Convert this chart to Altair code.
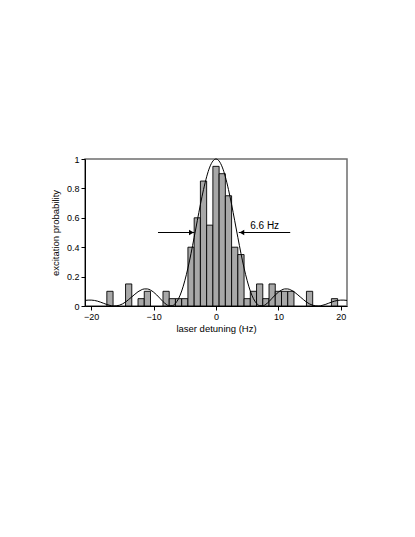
import altair as alt
import pandas as pd

# Histogram: bin centres (Hz) and measured excitation probability
bin_centers = [-17, -14, -12, -11, -8, -7, -6, -5, -4, -3, -2, -1, 0, 1, 2, 3, 4,
               5, 6, 7, 8, 9, 10, 11, 12, 15, 19]
probs = [0.10, 0.15, 0.05, 0.10, 0.10, 0.05, 0.05, 0.05, 0.40, 0.60, 0.85, 0.55,
         0.95, 0.90, 0.75, 0.40, 0.35, 0.05, 0.10, 0.15, 0.05, 0.15, 0.10, 0.10,
         0.10, 0.10, 0.05]

# Fitted line shape, every 0.5 Hz
curve_x = [-21.0, -20.5, -20.0, -19.5, -19.0, -18.5, -18.0, -17.5, -17.0, -16.5,
           -16.0, -15.5, -15.0, -14.5, -14.0, -13.5, -13.0, -12.5, -12.0, -11.5,
           -11.0, -10.5, -10.0, -9.5, -9.0, -8.5, -8.0, -7.5, -7.0, -6.5,
           -6.0, -5.5, -5.0, -4.5, -4.0, -3.5, -3.0, -2.5, -2.0, -1.5,
           -1.0, -0.5, 0.0, 0.5, 1.0, 1.5, 2.0, 2.5, 3.0, 3.5,
           4.0, 4.5, 5.0, 5.5, 6.0, 6.5, 7.0, 7.5, 8.0, 8.5,
           9.0, 9.5, 10.0, 10.5, 11.0, 11.5, 12.0, 12.5, 13.0, 13.5,
           14.0, 14.5, 15.0, 15.5, 16.0, 16.5, 17.0, 17.5, 18.0, 18.5,
           19.0, 19.5, 20.0, 20.5, 21.0]
curve_y = [0.038, 0.040, 0.040, 0.038, 0.033, 0.026, 0.018, 0.010, 0.004, 0.000,
           0.001, 0.005, 0.014, 0.027, 0.044, 0.062, 0.080, 0.097, 0.109, 0.116,
           0.116, 0.108, 0.094, 0.075, 0.053, 0.030, 0.012, 0.001, 0.002, 0.018,
           0.050, 0.102, 0.172, 0.258, 0.358, 0.467, 0.580, 0.691, 0.792, 0.879,
           0.945, 0.986, 1.000, 0.986, 0.945, 0.879, 0.792, 0.691, 0.580, 0.467,
           0.358, 0.258, 0.172, 0.102, 0.050, 0.018, 0.002, 0.001, 0.012, 0.030,
           0.053, 0.075, 0.094, 0.108, 0.116, 0.116, 0.109, 0.097, 0.080, 0.062,
           0.044, 0.027, 0.014, 0.005, 0.001, 0.000, 0.004, 0.010, 0.018, 0.026,
           0.033, 0.038, 0.040, 0.040, 0.038]

# Axis ticks
x_ticks = [-20, -10, 0, 10, 20]
y_ticks = [0, 0.2, 0.4, 0.6, 0.8, 1.0]

# FWHM annotation (data coordinates)
arrow_start = [-9.3, 11.9]
arrow_tip = [-3.45, 3.65]
arrow_head_pos = [-3.95, 4.15]
arrow_shapes = ["triangle-right", "triangle-left"]
arrow_level = 0.5
label_text = "6.6 Hz"
label_x = 7.8
label_y = 0.545

FONT = "Liberation Sans"

bars_df = pd.DataFrame({
    "x": [c - 0.5 for c in bin_centers],
    "x2": [c + 0.5 for c in bin_centers],
    "y": probs,
    "base": [0.0] * len(probs),
})
curve_df = pd.DataFrame({"x": curve_x, "y": curve_y})
arrows_df = pd.DataFrame({"x": arrow_start, "x2": arrow_tip, "y": [arrow_level] * 2})
heads_df = pd.DataFrame({"x": arrow_head_pos, "y": [arrow_level] * 2, "shape": arrow_shapes})
label_df = pd.DataFrame({"x": [label_x], "y": [label_y], "t": [label_text]})

xscale = alt.Scale(domain=[-21, 21], nice=False, zero=False, padding=0)
yscale = alt.Scale(domain=[0, 1], nice=False, zero=False, padding=0)

xaxis = alt.Axis(values=x_ticks, format="d", title="laser detuning (Hz)",
                 labelOverlap=False, titlePadding=2)
yaxis = alt.Axis(values=y_ticks, format="~g", title="excitation probability",
                 labelOverlap=False, titlePadding=6)

X = alt.X("x:Q", scale=xscale, axis=xaxis)
Y = alt.Y("y:Q", scale=yscale, axis=yaxis)

bars = alt.Chart(bars_df).mark_bar(color="#a8a8a8", stroke="black", strokeWidth=0.9,
                                   orient="vertical").encode(
    x=X, x2="x2:Q", y=Y, y2="base:Q",
)

curve = alt.Chart(curve_df).mark_line(color="black", strokeWidth=1, interpolate="monotone").encode(
    x=X, y=Y,
)

arrows = alt.Chart(arrows_df).mark_rule(color="black", strokeWidth=1).encode(
    x=X, x2="x2:Q", y=Y
)

heads = alt.Chart(heads_df).mark_point(filled=True, color="black", size=30, opacity=1).encode(
    x=X, y=Y,
    shape=alt.Shape("shape:N", scale=None, legend=None),
)

label = alt.Chart(label_df).mark_text(font=FONT, fontSize=10, color="black").encode(
    x=X, y=Y, text="t:N"
)

chart = alt.layer(bars, curve, arrows, heads, label).properties(
    width=262, height=147, autosize="none",
    padding={"left": 77, "top": 151, "right": 50, "bottom": 50},
    background="white",
).configure_view(
    stroke="#6e6e6e", strokeWidth=1.5
).configure_axis(
    grid=False, tickSize=4, labelPadding=2,
    domainColor="black", tickColor="black", labelColor="black",
    labelFont=FONT, labelFontSize=9, titleFont=FONT, titleFontSize=9.5,
    titleFontWeight="normal", titleColor="black",
).configure_scale(continuousPadding=0)

chart.save("out.html", embed_options={"renderer": "svg", "actions": False})
